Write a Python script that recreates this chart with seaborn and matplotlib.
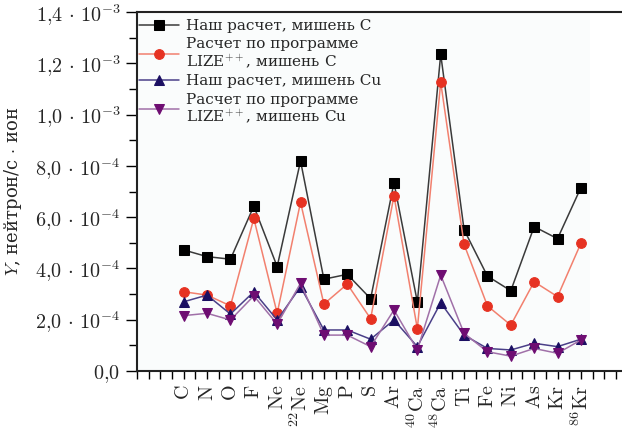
import matplotlib
matplotlib.use("Agg")
import matplotlib.pyplot as plt
import seaborn as sns
import pandas as pd
import numpy as np
from matplotlib.ticker import MultipleLocator

# ---- data ----
elements = ["C", "N", "O", "F", "Ne", "22Ne", "Mg", "P", "S", "Ar",
            "40Ca", "48Ca", "Ti", "Fe", "Ni", "As", "Kr", "86Kr"]
element_labels = [r"$\mathrm{C}$", r"$\mathrm{N}$", r"$\mathrm{O}$", r"$\mathrm{F}$",
                  r"$\mathrm{Ne}$", r"$^{22}\mathrm{Ne}$", r"$\mathrm{Mg}$", r"$\mathrm{P}$",
                  r"$\mathrm{S}$", r"$\mathrm{Ar}$", r"$^{40}\mathrm{Ca}$", r"$^{48}\mathrm{Ca}$",
                  r"$\mathrm{Ti}$", r"$\mathrm{Fe}$", r"$\mathrm{Ni}$", r"$\mathrm{As}$",
                  r"$\mathrm{Kr}$", r"$^{86}\mathrm{Kr}$"]

our_C = [4.72, 4.46, 4.36, 6.43, 4.07, 8.19, 3.58, 3.77, 2.82, 7.34,
         2.69, 12.35, 5.51, 3.70, 3.13, 5.63, 5.16, 7.15]
lize_C = [3.09, 2.96, 2.54, 5.95, 2.25, 6.58, 2.61, 3.39, 2.04, 6.83,
          1.65, 11.26, 4.94, 2.54, 1.79, 3.48, 2.90, 4.98]
our_Cu = [2.70, 2.96, 2.22, 3.09, 1.99, 3.29, 1.60, 1.60, 1.24, 1.99,
          0.95, 2.66, 1.40, 0.88, 0.82, 1.08, 0.95, 1.24]
lize_Cu = [2.16, 2.25, 1.99, 2.93, 1.83, 3.42, 1.40, 1.40, 0.95, 2.38,
           0.82, 3.74, 1.47, 0.75, 0.58, 0.88, 0.69, 1.21]
scale = 1e-4

series_names = ["Наш расчет, мишень C",
                "Расчет по программе\nLIZE$^{++}$, мишень C",
                "Наш расчет, мишень Cu",
                "Расчет по программе\nLIZE$^{++}$, мишень Cu"]

yticks = [0, 2e-4, 4e-4, 6e-4, 8e-4, 1.0e-3, 1.2e-3, 1.4e-3]
ytick_labels = [r"$0{,}0$", r"$2{,}0\,\cdot\,10^{-4}$", r"$4{,}0\,\cdot\,10^{-4}$",
                r"$6{,}0\,\cdot\,10^{-4}$", r"$8{,}0\,\cdot\,10^{-4}$", r"$1{,}0\,\cdot\,10^{-3}$",
                r"$1{,}2\,\cdot\,10^{-3}$", r"$1{,}4\,\cdot\,10^{-3}$"]

# ---- styling ----
sns.set_style("white")
plt.rcParams["mathtext.fontset"] = "cm"
plt.rcParams["font.family"] = ["DejaVu Serif", "Liberation Serif"]

fig = plt.figure(figsize=(6.22, 4.30), dpi=100)
ax = fig.add_axes([137/622, 59/430, 1 - 137/622, 359/430])
ax.set_facecolor("white")
ax.axvspan(-2, 17.4, color="#fafcfc", zorder=0, lw=0)

idx = np.arange(len(elements))
styles = [
    dict(marker="s", line="#3a3a3a", mk="#000000", ms=6.5),
    dict(marker="o", line="#f2806e", mk="#e63222", ms=7),
    dict(marker="^", line="#4a3f88", mk="#1b0f62", ms=7.5),
    dict(marker="v", line="#a070a8", mk="#6e0d72", ms=7.5),
]
all_vals = [our_C, lize_C, our_Cu, lize_Cu]
for name, vals, st in zip(series_names, all_vals, styles):
    df = pd.DataFrame({"x": idx, "y": np.array(vals) * scale})
    sns.lineplot(data=df, x="x", y="y", ax=ax, color=st["line"], lw=1.1,
                 marker=st["marker"], markersize=st["ms"],
                 markerfacecolor=st["mk"], markeredgecolor=st["mk"],
                 label=name, zorder=3)

ax.set_xlim(-2, 18.76)
ax.set_ylim(0, 1.4e-3)
ax.set_xticks(idx)
ax.set_xticklabels(element_labels, rotation=90, fontsize=14.5)
ax.xaxis.set_minor_locator(MultipleLocator(0.5))
ax.set_yticks(yticks)
ax.set_yticklabels(ytick_labels, fontsize=14.5)
ax.yaxis.set_minor_locator(MultipleLocator(1e-4))
ax.tick_params(axis="both", which="both", direction="out", color="black",
               width=1.0, left=True, bottom=True)
ax.tick_params(axis="y", which="major", length=8, pad=4)
ax.tick_params(axis="y", which="minor", length=6)
ax.tick_params(axis="x", which="both", length=6, pad=4)

for s in ["left", "top", "bottom"]:
    ax.spines[s].set_visible(True)
    ax.spines[s].set_color("#222222")
    ax.spines[s].set_linewidth(1.5)
ax.spines["right"].set_visible(False)

ax.set_xlabel("")
ax.set_ylabel(r"$Y$, нейтрон/с $\cdot$ ион", fontsize=13)
ax.yaxis.set_label_coords(-0.232, 0.5)

leg = ax.legend(loc="upper left", bbox_to_anchor=(-0.01, 1.0), frameon=False,
                fontsize=11, handlelength=2.6, handletextpad=0.5,
                labelspacing=0.3, borderaxespad=0.05)
for t in leg.get_texts():
    t.set_linespacing(1.05)

fig.savefig("out.png", dpi=100)
